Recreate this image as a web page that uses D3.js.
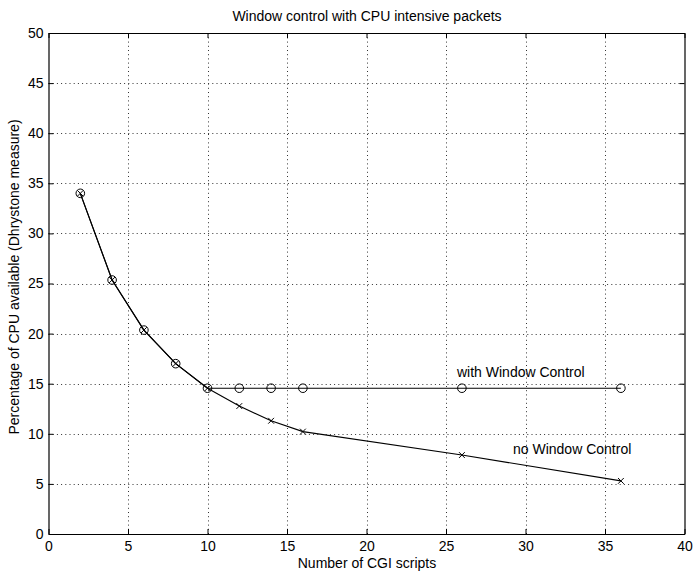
<!DOCTYPE html>
<html>
<head>
<meta charset="utf-8">
<script src="https://cdn.jsdelivr.net/npm/d3@7"></script>
<style>
  html, body { margin: 0; padding: 0; background: #fff; }
  svg { display: block; }
  text { font-family: "Liberation Sans", Arial, Helvetica, sans-serif; fill: #000; }
</style>
</head>
<body>
<svg id="chart" width="693" height="573"></svg>
<script>
// Number of CGI scripts
const scripts = [2, 4, 6, 8, 10, 12, 14, 16, 26, 36];
// CPU available (%) with window control
const withControl = [34.0, 25.35, 20.35, 17.0, 14.55, 14.55, 14.55, 14.55, 14.55, 14.55];
// CPU available (%) without window control
const noControl = [34.0, 25.35, 20.35, 17.0, 14.55, 12.77, 11.3, 10.22, 7.88, 5.3];
const xTicks = [0, 5, 10, 15, 20, 25, 30, 35, 40];
const yTicks = [0, 5, 10, 15, 20, 25, 30, 35, 40, 45, 50];

const svg = d3.select("#chart");
const plotLeft = 48.5, plotRight = 684.5, plotTop = 33, plotBottom = 534;
const fontSize = 14;

const x = d3.scaleLinear().domain([0, 40]).range([plotLeft, plotRight]);
const y = d3.scaleLinear().domain([0, 50]).range([plotBottom, plotTop]);

// dotted grid
const grid = svg.append("g").attr("stroke", "#000").attr("stroke-width", 1)
  .attr("stroke-dasharray", "1,3.2").attr("opacity", 0.8);
xTicks.slice(1, -1).forEach(t => {
  grid.append("line").attr("x1", Math.round(x(t)) + 0.5).attr("x2", Math.round(x(t)) + 0.5)
    .attr("y1", plotBottom).attr("y2", plotTop);
});
yTicks.slice(1, -1).forEach(t => {
  grid.append("line").attr("y1", Math.round(y(t)) + 0.5).attr("y2", Math.round(y(t)) + 0.5)
    .attr("x1", plotLeft).attr("x2", plotRight);
});

// axes on all four sides, ticks pointing inward
const fmt = d3.format("d");
const axB = svg.append("g").attr("transform", `translate(0,${plotBottom})`)
  .call(d3.axisBottom(x).tickValues(xTicks).tickFormat(fmt).tickSizeInner(-5).tickSizeOuter(0).tickPadding(7));
const axT = svg.append("g").attr("transform", `translate(0,${plotTop})`)
  .call(d3.axisTop(x).tickValues(xTicks).tickFormat("").tickSizeInner(-5).tickSizeOuter(0));
const axL = svg.append("g").attr("transform", `translate(${plotLeft},0)`)
  .call(d3.axisLeft(y).tickValues(yTicks).tickFormat(fmt).tickSizeInner(-5).tickSizeOuter(0).tickPadding(5));
const axR = svg.append("g").attr("transform", `translate(${plotRight},0)`)
  .call(d3.axisRight(y).tickValues(yTicks).tickFormat("").tickSizeInner(-5).tickSizeOuter(0));
[axB, axT, axL, axR].forEach(a => {
  a.selectAll("path").attr("stroke", "#000").attr("stroke-width", 1.2);
  a.selectAll("line").attr("stroke", "#000");
  a.selectAll("text").attr("font-size", fontSize).attr("font-family", "Liberation Sans, Arial, sans-serif").attr("fill", "#000");
});

// series lines
const line = d3.line().x((d, i) => x(scripts[i])).y(d => y(d));
svg.append("path").datum(noControl).attr("d", line)
  .attr("fill", "none").attr("stroke", "#000").attr("stroke-width", 1.1);
svg.append("path").datum(withControl).attr("d", line)
  .attr("fill", "none").attr("stroke", "#000").attr("stroke-width", 1.1);

// circle markers for window control
svg.append("g").selectAll("circle").data(withControl).join("circle")
  .attr("cx", (d, i) => x(scripts[i])).attr("cy", d => y(d)).attr("r", 4.3)
  .attr("fill", "none").attr("stroke", "#000").attr("stroke-width", 1);

// cross markers for no window control
const s = 2.9;
svg.append("g").selectAll("path").data(noControl).join("path")
  .attr("d", (d, i) => {
    const cx = x(scripts[i]), cy = y(d);
    return `M${cx - s},${cy - s}L${cx + s},${cy + s}M${cx - s},${cy + s}L${cx + s},${cy - s}`;
  })
  .attr("stroke", "#000").attr("stroke-width", 1).attr("fill", "none");

// series labels
svg.append("text").attr("x", 457).attr("y", 377).attr("font-size", fontSize).text("with Window Control");
svg.append("text").attr("x", 513).attr("y", 454).attr("font-size", fontSize).text("no Window Control");

// titles
svg.append("text").attr("x", 367).attr("y", 21).attr("text-anchor", "middle").attr("font-size", fontSize)
  .text("Window control with CPU intensive packets");
svg.append("text").attr("x", 367).attr("y", 568).attr("text-anchor", "middle").attr("font-size", fontSize)
  .text("Number of CGI scripts");
svg.append("text").attr("transform", "translate(19,277) rotate(-90)").attr("text-anchor", "middle")
  .attr("font-size", fontSize).text("Percentage of CPU available (Dhrystone measure)");
</script>
</body>
</html>
